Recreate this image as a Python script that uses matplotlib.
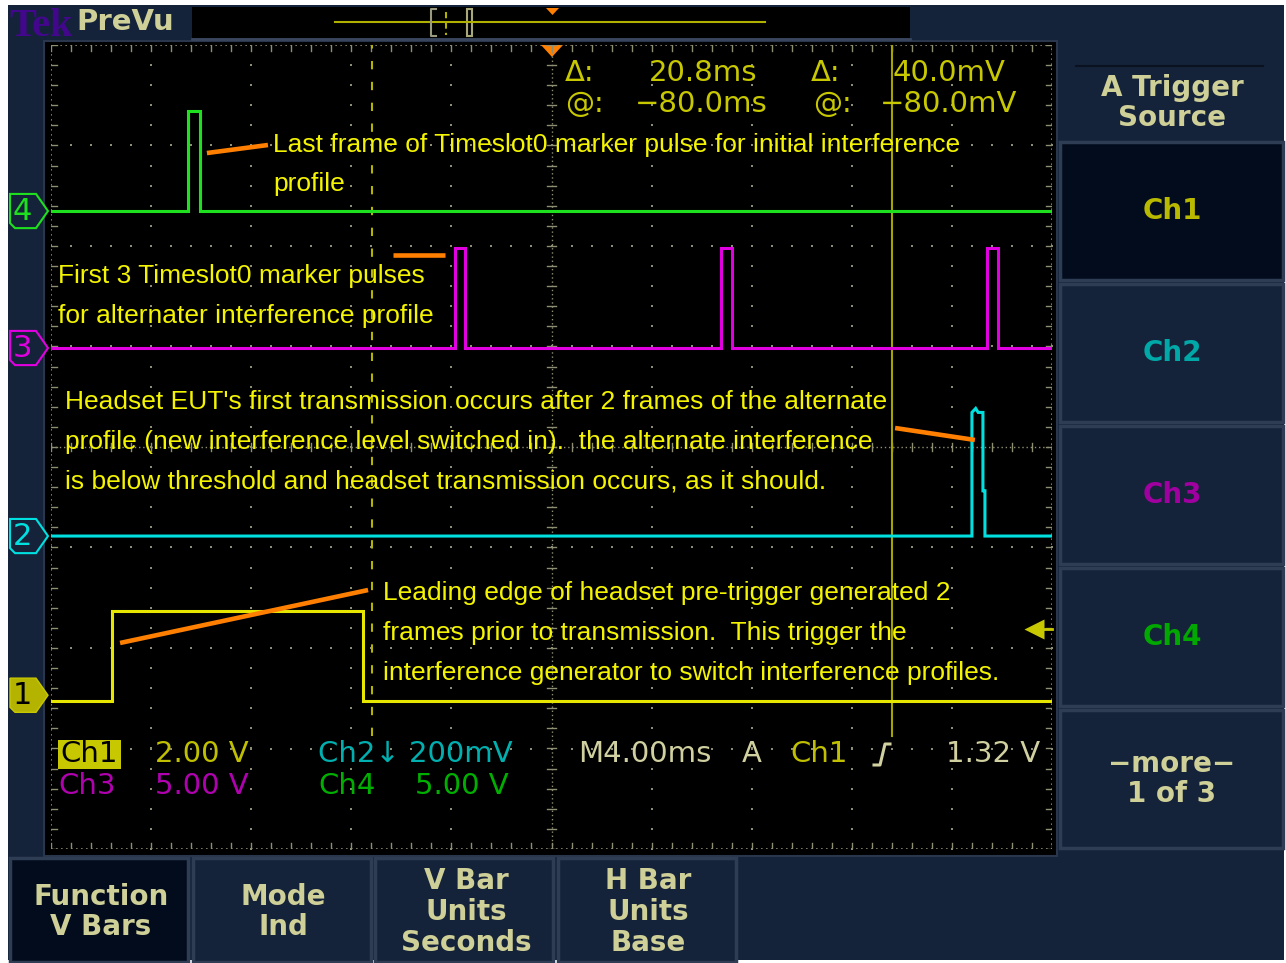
import matplotlib.pyplot as plt
import numpy as np
from matplotlib.patches import Rectangle, Polygon
from matplotlib.transforms import blended_transform_factory

# horizontal: 4 ms/div over 10 div, vertical: 8 div
time_per_div = 4.0
n_xdiv = 10
n_ydiv = 8

# channel set-up: volts/div and ground level (divisions from centre)
ch_labels = ['1', '2', '3', '4']
ch_scale = [2.0, 0.2, 5.0, 5.0]
ch_ground = [-2.47, -0.886, 0.985, 2.348]
ch_color = ['#e6e600', '#00e0e0', '#e000e0', '#1ee01e']

# traces, time in ms and level in volts
ch1_t = [0.0, 2.44, 2.44, 12.47, 12.47, 40.0]
ch1_v = [-0.12, -0.12, 1.68, 1.68, -0.12, -0.12]
ch2_t = [0.0, 36.80, 36.80, 36.95, 37.05, 37.24, 37.24, 37.32, 37.32, 40.0]
ch2_v = [0.0, 0.0, 0.246, 0.254, 0.246, 0.246, 0.09, 0.09, 0.0, 0.0]
ch3_t = [0.0, 16.14, 16.14, 16.54, 16.54, 26.77, 26.77, 27.21, 27.21,
         37.40, 37.40, 37.84, 37.84, 40.0]
ch3_v = [0, 0, 5, 5, 0, 0, 5, 5, 0, 0, 5, 5, 0, 0]
ch4_t = [0.0, 5.47, 5.47, 5.95, 5.95, 40.0]
ch4_v = [0, 0, 5, 5, 0, 0]

traces = [(ch1_t, ch1_v), (ch2_t, ch2_v), (ch3_t, ch3_v), (ch4_t, ch4_v)]

# bar cursors (ms) and trigger
cursor_t = [12.83, 33.61]
trigger_pos = 20.0
trigger_level = 1.32

# hand drawn orange pointers (ms, div)
arrow_t = [(6.23, 8.67), (13.67, 15.74), (33.73, 36.92), (2.76, 12.67)]
arrow_y = [(2.925, 3.005), (1.91, 1.91), (0.189, 0.07), (-1.95, -1.423)]

notes = [
    (273, 145, "Last frame of Timeslot0 marker pulse for initial interference"),
    (273, 184, "profile"),
    (58, 276, "First 3 Timeslot0 marker pulses"),
    (58, 316, "for alternater interference profile"),
    (65, 402, "Headset EUT's first transmission occurs after 2 frames of the alternate"),
    (65, 442, "profile (new interference level switched in).  the alternate interference"),
    (65, 482, "is below threshold and headset transmission occurs, as it should."),
    (383, 593, "Leading edge of headset pre-trigger generated 2"),
    (383, 633, "frames prior to transmission.  This trigger the"),
    (383, 673, "interference generator to switch interference profiles."),
]

side_menu = ['Ch1', 'Ch2', 'Ch3', 'Ch4', '\u2212more\u2212\n1 of 3']
side_colors = ['#b9b900', '#00a8a8', '#a000a0', '#00a800', '#cfcf98']
bottom_menu = ['Function\nV Bars', 'Mode\nInd', 'V Bar\nUnits\nSeconds', 'H Bar\nUnits\nBase']

navy = '#15233a'
dark = '#020c1c'
beige = '#cfcf98'
dotc = '#8e8e74'
orange = '#ff7f00'

fig = plt.figure(figsize=(12.86, 9.63), dpi=100)
fig.patch.set_facecolor('white')

bg = fig.add_axes([0, 0, 1, 1])
bg.set_xlim(0, 1286)
bg.set_ylim(963, 0)
bg.axis('off')

bg.add_patch(Rectangle((8, 5), 1276, 955, fc=navy, ec='none'))
# screen
bg.add_patch(Rectangle((44, 41), 1013, 815, fc='black', ec='#2a364c', lw=1.5))

# top bar
bg.text(9, 27, 'Tek', family='Liberation Serif', fontsize=29, weight='bold',
        color='#42078c', va='center', ha='left')
bg.text(76, 22, 'PreVu', family='DejaVu Sans', fontsize=21, weight='bold',
        color=beige, va='center', ha='left')
bg.add_patch(Rectangle((192, 7), 718, 31, fc='black', ec='none'))
bg.plot([192, 910], [39, 39], color='#3a465e', lw=2)
bg.plot([335, 765], [22, 22], color='#b0b000', lw=1.5)
bg.plot([436, 431, 431, 436], [9, 9, 36, 36], color='#9a9a80', lw=1.5)
bg.add_patch(Rectangle((467, 9), 5, 27, fc='none', ec='#a8a878', lw=1.5))
bg.plot([446, 446], [12, 35], color='#b0b000', lw=1.5, ls=(0, (3, 2)))
bg.add_patch(Polygon([(546, 8), (559, 8), (552.5, 15)], fc=orange, ec='none'))

# trigger position marker on top of graticule
bg.add_patch(Polygon([(541, 45), (563, 45), (552, 57)], fc=orange, ec='none'))

# right side menu
menu_font = dict(family='DejaVu Sans', fontsize=20, weight='bold', ha='center',
                 va='center', linespacing=1.12)
bg.plot([1076, 1263], [66, 66], color='#0a1222', lw=1.5)
bg.text(1172, 103, 'A Trigger\nSource', color=beige, **menu_font)
for i, (lab, col) in enumerate(zip(side_menu, side_colors)):
    y0 = 142 + i * 142
    fc = dark if i == 0 else navy
    bg.add_patch(Rectangle((1060, y0), 223, 138, fc=fc, ec='#2e3c54', lw=2.5))
    bg.text(1172, y0 + 69, lab, color=col, **menu_font)

# bottom menu
for i, lab in enumerate(bottom_menu):
    x0 = 10 + i * 182.5
    fc = dark if i == 0 else navy
    bg.add_patch(Rectangle((x0, 858), 178, 104, fc=fc, ec='#2e3c54', lw=2.5))
    bg.text(x0 + 91, 912, lab, color=beige, **menu_font)

# graticule axes
ax = fig.add_axes([51 / 1286, (963 - 849) / 963, 1001 / 1286, 804 / 963])
t_max = time_per_div * n_xdiv
ax.set_xlim(0, t_max)
ax.set_ylim(-n_ydiv / 2, n_ydiv / 2)
ax.patch.set_alpha(0)
ax.set_xticks([])
ax.set_yticks([])
for s in ax.spines.values():
    s.set_visible(False)

minor_y = np.arange(-4, 4.001, 0.2)
minor_x = np.arange(0, t_max + 0.001, time_per_div / 5)
for k in range(1, n_xdiv):
    if k == n_xdiv // 2:
        continue
    ax.scatter(np.full_like(minor_y, k * time_per_div), minor_y, s=2.6, marker='s',
               color=dotc, lw=0, zorder=1)
for k in range(-3, 4):
    if k == 0:
        continue
    ax.scatter(minor_x, np.full_like(minor_x, k), s=2.6, marker='s',
               color=dotc, lw=0, zorder=1)

# centre cross and border, finely dotted with ticks
fine = (0, (1, 2))
ax.plot([t_max / 2, t_max / 2], [-4, 4], color=dotc, lw=1, ls=fine)
ax.plot([0, t_max], [0, 0], color=dotc, lw=1, ls=fine)
for yy in minor_y:
    ax.plot([t_max / 2 - 0.16, t_max / 2 + 0.16], [yy, yy], color=dotc, lw=1)
for xx in minor_x:
    ax.plot([xx, xx], [-0.04, 0.04], color=dotc, lw=1)
ax.plot([0, t_max, t_max, 0, 0], [-4, -4, 4, 4, -4], color=dotc, lw=1.2, ls=fine)
for xx in minor_x:
    ax.plot([xx, xx], [4, 3.94], color=dotc, lw=1)
    ax.plot([xx, xx], [-4, -3.94], color=dotc, lw=1)
for yy in minor_y:
    ax.plot([0, 0.24], [yy, yy], color=dotc, lw=1)
    ax.plot([t_max, t_max - 0.24], [yy, yy], color=dotc, lw=1)

# waveforms
for (tt, vv), sc, g, col in zip(traces, ch_scale, ch_ground, ch_color):
    ax.plot(tt, g + np.array(vv) / sc, color=col, lw=2.2, zorder=4,
            solid_joinstyle='miter')

# bar cursors stop above the readout strip
ax.plot([cursor_t[0]] * 2, [-2.88, 4], color='#b4b400', lw=1.5, ls=(0, (4, 6)), zorder=3)
ax.plot([cursor_t[1]] * 2, [-2.88, 4], color='#a4a400', lw=1.5, zorder=3)

# trigger level arrow
trig_y = ch_ground[0] + trigger_level / ch_scale[0]
ax.plot([39.4, t_max], [trig_y, trig_y], color='#c8c800', lw=2, clip_on=False, zorder=5)
ax.plot(39.3, trig_y, marker='<', ms=14, color='#c8c800', mec='none', clip_on=False, zorder=5)

# orange pointers
for tt, yy in zip(arrow_t, arrow_y):
    ax.plot(tt, yy, color=orange, lw=3.3, solid_capstyle='butt', zorder=6)

# notes
for x, y, s in notes:
    ax.text(x, y, s, transform=bg.transData, family='Liberation Sans', fontsize=19,
            color='#f4f400', ha='left', va='center', zorder=7)

# channel ground markers
tr = blended_transform_factory(bg.transData, ax.transData)
for lab, g, col in zip(ch_labels, ch_ground, ch_color):
    h = 0.17
    verts = [(10, g + h), (36, g + h), (48, g), (36, g - h), (15, g - h), (10, g - h + 0.05)]
    if lab == '1':
        ax.add_patch(Polygon(verts, closed=True, fc='#b4b400', ec='#c8c800', lw=1,
                             transform=tr, clip_on=False, zorder=8))
        tc = 'black'
    else:
        ax.add_patch(Polygon(verts, closed=True, fc=navy, ec=col, lw=1.5,
                             transform=tr, clip_on=False, zorder=8))
        tc = col
    ax.text(22, g, lab, transform=tr, family='DejaVu Sans', fontsize=22, color=tc,
            ha='center', va='center', clip_on=False, zorder=9)

# cursor readouts
ro = dict(family='DejaVu Sans', fontsize=21, va='center', transform=bg.transData, zorder=9)
ax.text(565, 73, '\u0394:', color='#c8c800', ha='left', **ro)
ax.text(757, 73, '20.8ms', color='#c8c800', ha='right', **ro)
ax.text(565, 104, '@:', color='#c8c800', ha='left', **ro)
ax.text(768, 104, '\u221280.0ms', color='#c8c800', ha='right', **ro)
ax.text(811, 73, '\u0394:', color='#c8c800', ha='left', **ro)
ax.text(1005, 73, '40.0mV', color='#c8c800', ha='right', **ro)
ax.text(813, 104, '@:', color='#c8c800', ha='left', **ro)
ax.text(1017, 104, '\u221280.0mV', color='#c8c800', ha='right', **ro)

# channel / timebase readouts
ax.add_patch(Rectangle((58, 740), 63, 29, fc='#c8c800', ec='none', transform=bg.transData, zorder=8))
ax.text(89, 754, 'Ch1', color='black', ha='center', **ro)
ax.text(155, 754, '2.00 V', color='#c0c000', ha='left', **ro)
ax.text(318, 754, 'Ch2\u2193 200mV', color='#00b0b0', ha='left', **ro)
ax.text(578, 754, 'M4.00ms', color='#d0d0a0', ha='left', **ro)
ax.text(742, 754, 'A', color='#d0d0a0', ha='left', **ro)
ax.text(790, 754, 'Ch1', color='#c0c000', ha='left', **ro)
ax.text(1040, 754, '1.32 V', color='#d0d0a0', ha='right', **ro)
ax.plot([874, 880, 885, 890], [765, 765, 744, 744], color='#d0d0a0', lw=2.2,
        transform=bg.transData, zorder=9)
ax.text(58, 786, 'Ch3', color='#b000b0', ha='left', **ro)
ax.text(155, 786, '5.00 V', color='#b000b0', ha='left', **ro)
ax.text(318, 786, 'Ch4', color='#00b000', ha='left', **ro)
ax.text(415, 786, '5.00 V', color='#00b000', ha='left', **ro)

fig.savefig('out.png', dpi=100, facecolor='white')
